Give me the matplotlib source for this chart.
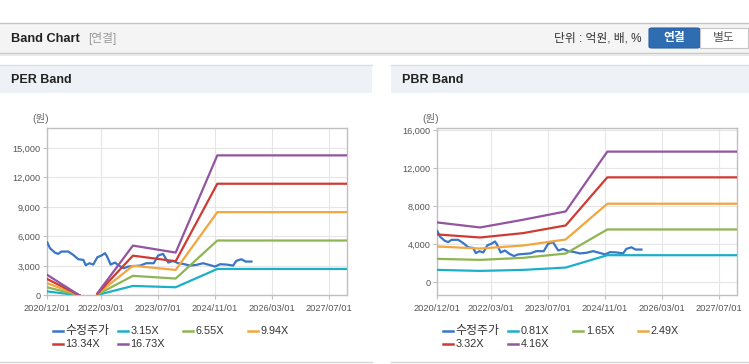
import matplotlib
matplotlib.use('Agg')
import matplotlib.pyplot as plt
import matplotlib.dates as mdates
from matplotlib.patches import Rectangle, FancyBboxPatch
from matplotlib.lines import Line2D
from matplotlib.ticker import FuncFormatter
import numpy as np
import pandas as pd

plt.rcParams['font.family'] = ['Liberation Sans', 'Noto Sans CJK KR', 'DejaVu Sans']
TITLE_FONT = ['Liberation Sans Narrow', 'Liberation Sans', 'Noto Sans CJK KR']

# ---- data ----
price_dates = ['2020-12-01', '2020-12-24', '2021-02-03', '2021-03-04', '2021-04-01',
               '2021-05-28', '2021-07-10', '2021-08-22', '2021-10-04', '2021-10-25',
               '2021-11-25', '2021-12-28', '2022-02-01', '2022-03-07', '2022-04-07',
               '2022-04-25', '2022-05-25', '2022-07-01', '2022-08-07', '2022-09-15',
               '2022-10-22', '2023-02-01', '2023-03-25', '2023-05-28', '2023-07-04',
               '2023-08-15', '2023-09-28', '2023-11-10', '2023-12-22', '2024-02-03',
               '2024-04-01', '2024-05-25', '2024-07-22', '2024-09-12', '2024-11-01',
               '2024-12-13', '2025-02-07', '2025-04-04', '2025-05-01', '2025-06-13',
               '2025-07-19', '2025-09-07']
price = [5374, 4795, 4353, 4217, 4455, 4455, 4115, 3673, 3605, 3061,
         3265, 3129, 3877, 4047, 4285, 3945, 3129, 3333, 2993, 2755,
         2925, 3027, 3265, 3265, 4047, 4217, 3333, 3503, 3265, 3197,
         3027, 3095, 3265, 3095, 2925, 3163, 3129, 3027, 3503, 3673,
         3435, 3435]

nan = np.nan
per_dates = ['2020-12-01', '2021-09-01', '2021-11-01', '2022-02-01',
             '2022-12-01', '2023-12-01', '2024-11-20', '2027-12-01']
per_labels = ['3.15X', '6.55X', '9.94X', '13.34X', '16.73X']
per_315 = [390, 0, nan, 40, 953, 820, 2682, 2682]
per_655 = [811, 0, nan, 80, 1981, 1704, 5577, 5577]
per_994 = [1231, 0, nan, 120, 3007, 2584, 8464, 8464]
per_1334 = [1652, 0, nan, 160, 4035, 3468, 11358, 11358]
per_1673 = [2071, 0, nan, 200, 5061, 4350, 14245, 14245]

pbr_dates = ['2020-12-01', '2021-12-01', '2022-12-01', '2023-12-01',
             '2024-11-20', '2027-12-01']
pbr_labels = ['0.81X', '1.65X', '2.49X', '3.32X', '4.16X']
pbr_081 = [1298, 1193, 1298, 1544, 2842, 2842]
pbr_165 = [2456, 2351, 2562, 3018, 5544, 5544]
pbr_249 = [3755, 3544, 3860, 4491, 8246, 8246]
pbr_332 = [5018, 4702, 5158, 5965, 11018, 11018]
pbr_416 = [6281, 5755, 6562, 7439, 13720, 13720]

xtick_dates = ['2020-12-01', '2022-03-01', '2023-07-01', '2024-11-01', '2026-03-01', '2027-07-01']

price_color = '#3a76c6'
band_colors = ['#1cb0c8', '#8fb552', '#f1a63e', '#cf3a33', '#93559f']

W, H = 749, 364
fig = plt.figure(figsize=(W / 100, H / 100), dpi=100, facecolor='white')


def fx(x):
    return x / W


def fy(y):
    return 1 - y / H


def rect(x0, y0, x1, y1, **kw):
    fig.add_artist(Rectangle((fx(x0), fy(y1)), fx(x1 - x0), (y1 - y0) / H,
                             transform=fig.transFigure, **kw))


def hline(x0, x1, y, color, lw=1):
    fig.add_artist(Line2D([fx(x0), fx(x1)], [fy(y), fy(y)], color=color, lw=lw,
                          transform=fig.transFigure))


# ---- top header bar ----
rect(0, 23, W, 53, fc='#f4f4f4', ec='none')
hline(0, W, 22.5, '#c4c4c4')
hline(0, W, 53, '#c8c8c8')
hline(0, W, 54.5, '#e9e9e9', lw=1.5)
fig.text(fx(11), fy(38.5), 'Band Chart', family=TITLE_FONT, fontweight='bold',
         fontsize=9.2, color='#222222', va='center')
fig.text(fx(88), fy(38.5), '[연결]', fontsize=8.5, color='#999999', va='center')
fig.text(fx(642), fy(38.5), '단위 : 억원, 배, %', fontsize=8.5, color='#333333',
         va='center', ha='right')
fig.add_artist(FancyBboxPatch((fx(649), fy(48)), fx(51), 20 / H,
                              boxstyle='round,pad=0,rounding_size=0.004',
                              transform=fig.transFigure, fc='#2f6db3', ec='#2a62a2', lw=0.8))
fig.add_artist(Rectangle((fx(700), fy(48)), fx(48), 20 / H, transform=fig.transFigure,
                         fc='white', ec='#c6c6c6', lw=0.8))
fig.text(fx(674.5), fy(38.5), '연결', fontsize=8.5, color='white', fontweight='bold',
         ha='center', va='center')
fig.text(fx(724), fy(38.5), '별도', fontsize=8.5, color='#555555', ha='center', va='center')

# ---- panel headers ----
for x0, x1, title in [(0, 372, 'PER Band'), (391, W, 'PBR Band')]:
    rect(x0, 65, x1, 93, fc='#eef2f7', ec='none')
    hline(x0, x1, 65, '#dadfe5')
    hline(x0, x1, 362, '#d6d6d6')
    fig.text(fx(x0 + 11), fy(80), title, family=TITLE_FONT, fontweight='bold',
             fontsize=9, color='#222222', va='center')


def draw_panel(left, band_dates, bands, ylim, yticks):
    ax = fig.add_axes([fx(left), fy(295.3), fx(299.7), (295.3 - 128.3) / H])
    ax.plot(pd.to_datetime(price_dates), price, color=price_color, lw=1.6, zorder=3)
    for vals, c in zip(bands, band_colors):
        ax.plot(pd.to_datetime(band_dates), vals, color=c, lw=1.6, zorder=4)
    ax.set_xlim(pd.Timestamp('2020-12-01'), pd.Timestamp('2027-12-01'))
    ax.set_ylim(*ylim)
    ax.set_yticks(yticks)
    ax.yaxis.set_major_formatter(FuncFormatter(lambda v, p: f'{int(v):,}'))
    ax.set_xticks(pd.to_datetime(xtick_dates))
    ax.xaxis.set_major_formatter(mdates.DateFormatter('%Y/%m/%d'))
    ax.grid(True, color='#e6e6e6', lw=0.8)
    ax.set_axisbelow(True)
    for s in ax.spines.values():
        s.set_color('#c0c0c0')
        s.set_linewidth(1)
    ax.tick_params(axis='y', length=3, color='#c0c0c0', labelsize=6.6,
                   labelcolor='#555555', pad=2)
    ax.tick_params(axis='x', length=3, color='#c0c0c0', labelsize=6.7,
                   labelcolor='#555555', pad=3)
    fig.text(fx(left - 15), fy(118.5), '(원)', fontsize=7.5, color='#666666',
             va='center')
    return ax


draw_panel(47.3, per_dates, [per_315, per_655, per_994, per_1334, per_1673],
           (0, 17000), [0, 3000, 6000, 9000, 12000, 15000])
draw_panel(437.3, pbr_dates, [pbr_081, pbr_165, pbr_249, pbr_332, pbr_416],
           (-1370, 16170), [0, 4000, 8000, 12000, 16000])


def legend(x0, labels):
    names = ['수정주가'] + labels
    colors = [price_color] + band_colors
    for i, (n, c) in enumerate(zip(names, colors)):
        row, col = divmod(i, 4)
        x = x0 + col * 65
        y = 330.7 + row * 13
        fig.add_artist(Line2D([fx(x), fx(x + 10)], [fy(y), fy(y)], color=c, lw=1.8,
                              transform=fig.transFigure))
        fig.text(fx(x + 12.5), fy(y), n, fontsize=8.6 if i == 0 else 7.8,
                 color='#333333', va='center')


legend(52.7, per_labels)
legend(443.3, pbr_labels)

fig.savefig('out.png', dpi=100, facecolor='white')
